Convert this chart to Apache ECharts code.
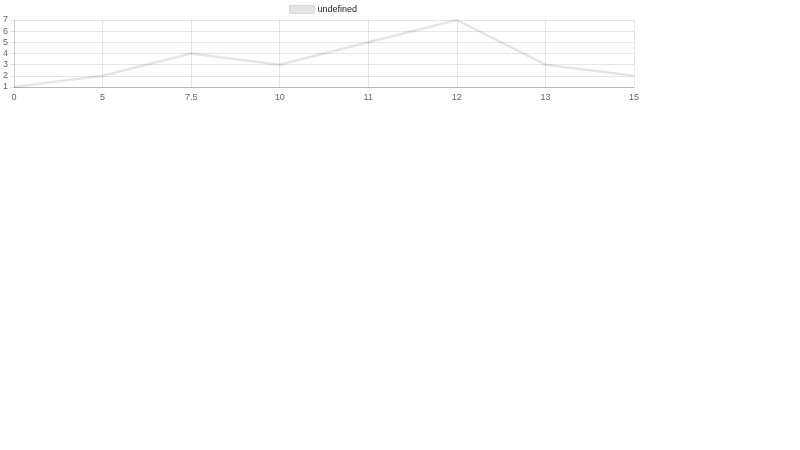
<!DOCTYPE html>
<html><head><meta charset="utf-8">
<script src="https://cdn.jsdelivr.net/npm/echarts@6/dist/echarts.min.js"></script>
<style>html,body{margin:0;padding:0;background:#fff}#c{width:800px;height:450px}</style>
</head><body><div id="c"></div>
<script>
const categories = ['0', '5', '7.5', '10', '11', '12', '13', '15'];
const values = [1, 2, 4, 3, 5, 7, 3, 2];
const seriesName = 'undefined';
const yTicks = [1, 2, 3, 4, 5, 6, 7];

const chart = echarts.init(document.getElementById('c'));
const font = 'Liberation Sans, Arial, Helvetica, sans-serif';
chart.setOption({
  animation: false,
  legend: {
    top: 5, left: 289, padding: 0,
    itemWidth: 25, itemHeight: 8, itemGap: 4,
    textStyle: { fontFamily: font, fontSize: 9, color: '#222', padding: [0, 0, 0, -2] },
    data: [{ name: seriesName, icon: 'rect', itemStyle: { color: 'rgba(0,0,0,0.1)', borderColor: 'rgba(0,0,0,0.1)', borderWidth: 1 } }]
  },
  grid: { left: 14, right: 166, top: 20, bottom: 363, containLabel: false },
  xAxis: {
    type: 'category', data: categories, boundaryGap: false,
    axisLine: { lineStyle: { color: 'rgba(0,0,0,0.2)' } },
    axisTick: { show: false },
    axisLabel: { fontFamily: font, fontSize: 9, color: '#666', margin: 6 },
    splitLine: { show: true, lineStyle: { color: 'rgba(0,0,0,0.1)' } }
  },
  yAxis: {
    type: 'value', min: yTicks[0], max: yTicks[yTicks.length - 1], interval: 1,
    axisLine: { show: true, lineStyle: { color: 'rgba(0,0,0,0.1)' } },
    axisTick: { show: true, length: 4, lineStyle: { color: 'rgba(0,0,0,0.1)' } },
    axisLabel: { fontFamily: font, fontSize: 9, color: '#666', margin: 6 },
    splitLine: { show: true, lineStyle: { color: 'rgba(0,0,0,0.1)' } }
  },
  series: [{
    name: seriesName, type: 'line', data: values,
    symbol: 'none', smooth: false,
    lineStyle: { color: 'rgba(0,0,0,0.1)', width: 2.5 },
    itemStyle: { color: 'rgba(0,0,0,0.1)' }
  }]
});
</script></body></html>
